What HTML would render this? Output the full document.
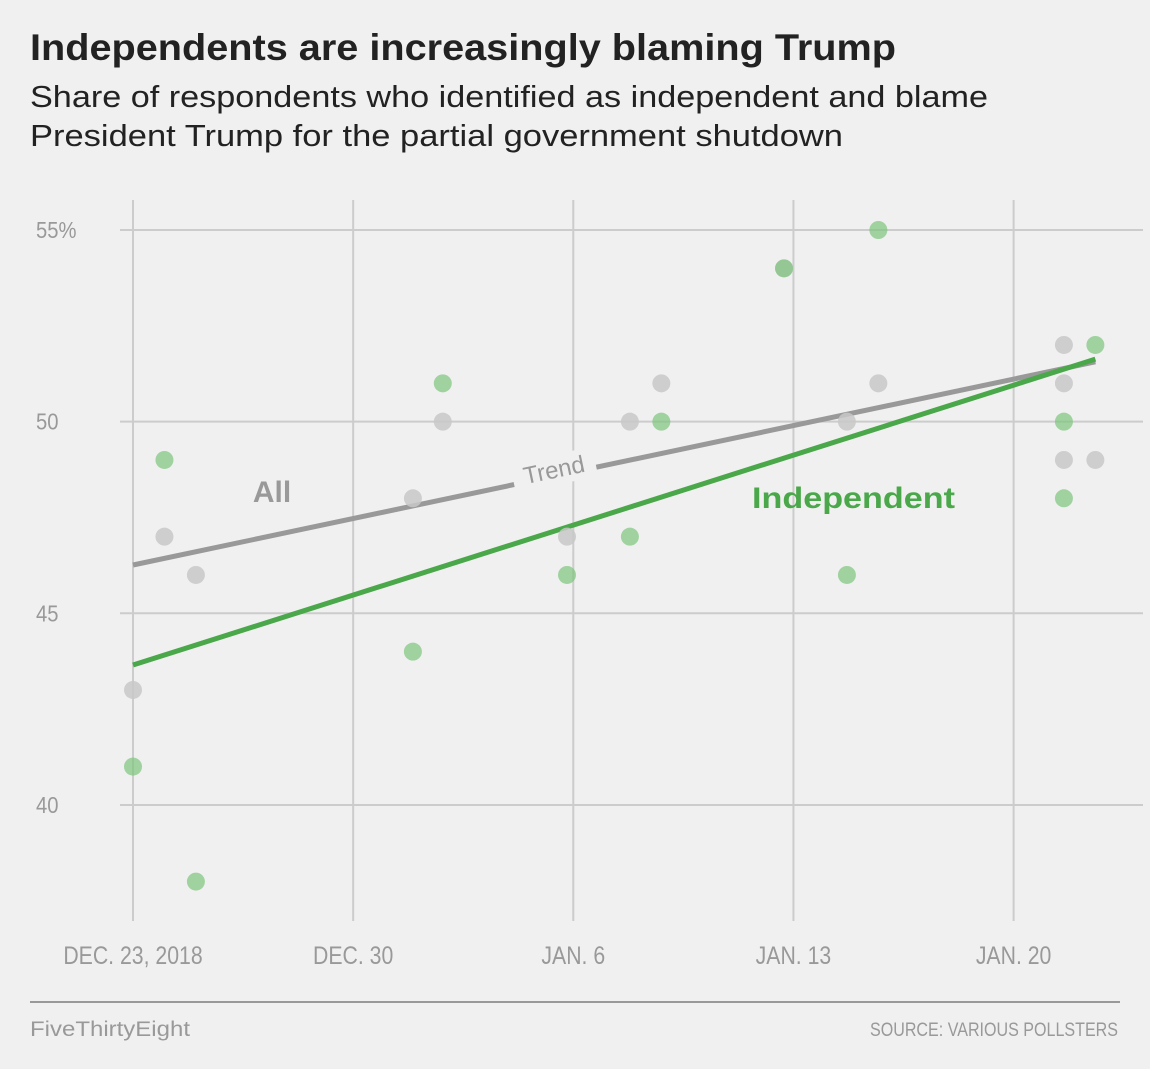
<!DOCTYPE html>
<html><head><meta charset="utf-8"><style>
body{margin:0;background:#f0f0f0;width:1150px;height:1064px;overflow:hidden;font-family:"Liberation Sans",sans-serif;}
</style></head><body>
<svg width="1150" height="1064" xmlns="http://www.w3.org/2000/svg">
<rect width="1150" height="1064" fill="#f0f0f0"/>
<text x="30" y="60" font-size="37" font-weight="bold" fill="#222" textLength="866" lengthAdjust="spacingAndGlyphs">Independents are increasingly blaming Trump</text>
<text x="30" y="107" font-size="31" fill="#222" textLength="958" lengthAdjust="spacingAndGlyphs">Share of respondents who identified as independent and blame</text>
<text x="30" y="146" font-size="31" fill="#222" textLength="813" lengthAdjust="spacingAndGlyphs">President Trump for the partial government shutdown</text>
<g id="grid"></g><g id="lines"></g><g id="pts"></g><g id="labels"></g>
<line x1="30" y1="1002" x2="1120" y2="1002" stroke="#999" stroke-width="2"/>
<text x="30" y="1036" font-size="21" fill="#999" textLength="160" lengthAdjust="spacingAndGlyphs">FiveThirtyEight</text>
<text x="870" y="1036" font-size="19" fill="#999" textLength="248" lengthAdjust="spacingAndGlyphs">SOURCE: VARIOUS POLLSTERS</text>
</svg>
<script>
const xTickDays=[0,7,14,21,28];
const xTickLabels=["DEC. 23, 2018","DEC. 30","JAN. 6","JAN. 13","JAN. 20"];
const yTicks=[40,45,50,55];
const yTickLabels=["40","45","50","55%"];
const allDays=[0,1,2,8.9,9.85,13.8,15.8,16.8,20.7,22.7,23.7,29.6,29.6,29.6,30.6];
const allVals=[43,47,46,48,50,47,50,51,54,50,51,52,51,49,49];
const indDays=[0,1,2,8.9,9.85,13.8,15.8,16.8,20.7,22.7,23.7,29.6,29.6,30.6];
const indVals=[41,49,38,44,51,46,47,50,54,46,55,50,48,52];
const trendDays=[0,30.6];
const allTrend=[46.26,51.56];
const indTrend=[43.65,51.63];
const NS="http://www.w3.org/2000/svg";
const X=d=>133+d*31.45;
const Y=v=>230+(55-v)*38.33;
function mk(tag,attrs,parent,txt){const e=document.createElementNS(NS,tag);for(const k in attrs)e.setAttribute(k,attrs[k]);if(txt!==undefined)e.textContent=txt;document.getElementById(parent).appendChild(e);return e;}
yTicks.forEach((v,i)=>{
 const l=mk('line',{x1:120,x2:1143,y1:Y(v),y2:Y(v),stroke:'#ccc','stroke-width':2},'grid');
 
 
 const t=mk('text',{x:36,y:Y(v)+8,'font-size':23,fill:'#999',transform:`translate(36 0) scale(0.88 1) translate(-36 0)`},'grid',yTickLabels[i]);
 
 
});
xTickDays.forEach((d,i)=>{
 const l=mk('line',{x1:X(d),x2:X(d),y1:200,y2:921,stroke:'#ccc','stroke-width':2},'grid');
 
 
 const t=mk('text',{x:X(d),y:964,'font-size':25,fill:'#999','text-anchor':'middle',transform:`translate(${X(d)} 0) scale(0.85 1) translate(${-X(d)} 0)`},'grid',xTickLabels[i]);
 
 
});
allDays.forEach((d,i)=>{
 const c=mk('circle',{cx:X(d),cy:Y(allVals[i]),r:9,fill:'#c8c8c8','fill-opacity':0.85},'pts');
 
 
});
indDays.forEach((d,i)=>{
 const c=mk('circle',{cx:X(d),cy:Y(indVals[i]),r:9,fill:'#7cc57c','fill-opacity':0.7},'pts');
 
 
});
const gl=mk('line',{x1:X(trendDays[0]),y1:Y(allTrend[0]),x2:X(trendDays[1]),y2:Y(allTrend[1]),stroke:'#999','stroke-width':5},'lines');


const il=mk('line',{x1:X(trendDays[0]),y1:Y(indTrend[0]),x2:X(trendDays[1]),y2:Y(indTrend[1]),stroke:'#4aa84a','stroke-width':5},'lines');


const ang=Math.atan2(Y(allTrend[1])-Y(allTrend[0]),X(trendDays[1])-X(trendDays[0]))*180/Math.PI;
const tb=mk('rect',{x:512,y:455,width:84,height:30,fill:'#f0f0f0',transform:`rotate(${ang} 554 470)`},'labels');


const tt=mk('text',{x:554,y:478,'font-size':24,fill:'#999','text-anchor':'middle',transform:`rotate(${ang} 554 470)`},'labels','Trend');


const a=mk('text',{x:272,y:502,'font-size':30,'font-weight':'bold',fill:'#999','text-anchor':'middle'},'labels','All');


const ind=mk('text',{x:752,y:508,'font-size':30,'font-weight':'bold',fill:'#4aa84a',textLength:203,lengthAdjust:'spacingAndGlyphs'},'labels','Independent');


</script>
</body></html>
